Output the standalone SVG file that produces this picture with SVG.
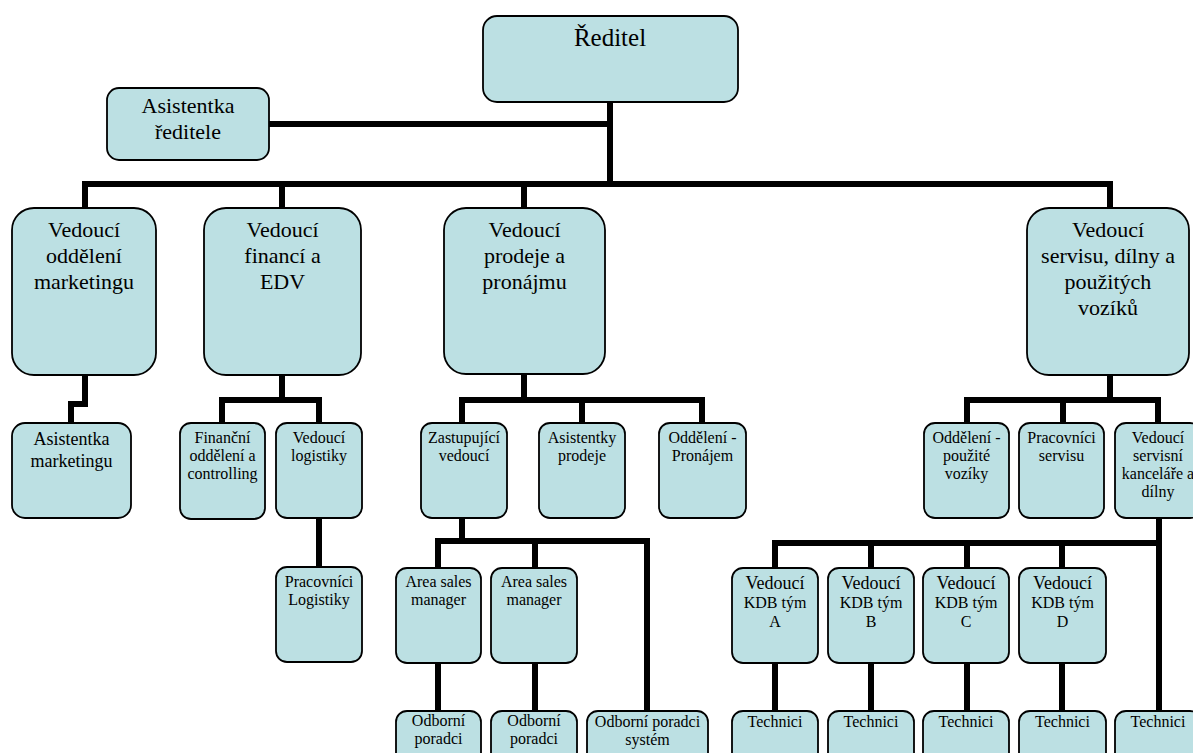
<svg xmlns="http://www.w3.org/2000/svg" width="1193" height="753" viewBox="0 0 1193 753" font-family="'Liberation Serif', 'Times New Roman', Times, serif">
<style>
.box{fill:#BCE0E3;stroke:#000;stroke-width:1.8}
.conn{fill:none;stroke:#000;stroke-width:6;stroke-linejoin:miter}
text{font-family:'Liberation Serif','Times New Roman',Times,serif;fill:#000;text-anchor:middle}
.t25{font-size:25px}
.t22{font-size:22px}
.t18{font-size:18px}
.t16{font-size:16px}
</style>
<rect width="1193" height="753" fill="#fff"/>
<g id="connectors">
<path class="conn" d="M610,102 V184"/>
<path class="conn" d="M269,124 H610"/>
<path class="conn" d="M85,208 V184 H1110 V208"/>
<path class="conn" d="M282,184 V208"/>
<path class="conn" d="M524,184 V208"/>
<path class="conn" d="M85,375 V404 H71 V423"/>
<path class="conn" d="M282,375 V400"/>
<path class="conn" d="M222,423 V400 H319 V423"/>
<path class="conn" d="M319,518 V567"/>
<path class="conn" d="M524,374 V400"/>
<path class="conn" d="M462,423 V400 H702 V423"/>
<path class="conn" d="M582,400 V423"/>
<path class="conn" d="M462,518 V541"/>
<path class="conn" d="M438,568 V541 H647 V711"/>
<path class="conn" d="M535,541 V568"/>
<path class="conn" d="M438,663 V711"/>
<path class="conn" d="M535,663 V711"/>
<path class="conn" d="M1110,375 V400"/>
<path class="conn" d="M967,423 V400 H1158 V423"/>
<path class="conn" d="M1063,400 V423"/>
<path class="conn" d="M1159,518 V711"/>
<path class="conn" d="M775,568 V543 H1159"/>
<path class="conn" d="M871,543 V568"/>
<path class="conn" d="M967,543 V568"/>
<path class="conn" d="M1062,543 V568"/>
<path class="conn" d="M775,663 V711"/>
<path class="conn" d="M871,663 V711"/>
<path class="conn" d="M967,663 V711"/>
<path class="conn" d="M1062,663 V711"/>
</g>
<g id="reditel"><rect class="box" x="483" y="16" width="255" height="86" rx="14"/><text class="t25" x="610" y="46">Ředitel</text></g>
<g id="asistentka-reditele"><rect class="box" x="107" y="88" width="162" height="72" rx="12"/><text class="t22" x="188" y="113">Asistentka</text><text class="t22" x="188" y="139">ředitele</text></g>
<g id="vedouci-marketing"><rect class="box" x="12" y="208" width="144" height="167" rx="22"/><text class="t22" x="84" y="237">Vedoucí</text><text class="t22" x="84" y="263">oddělení</text><text class="t22" x="84" y="289">marketingu</text></g>
<g id="vedouci-financi"><rect class="box" x="204" y="208" width="157" height="167" rx="22"/><text class="t22" x="282.5" y="237">Vedoucí</text><text class="t22" x="282.5" y="263">financí a</text><text class="t22" x="282.5" y="289">EDV</text></g>
<g id="vedouci-prodeje"><rect class="box" x="444" y="208" width="161" height="166" rx="22"/><text class="t22" x="524.5" y="237">Vedoucí</text><text class="t22" x="524.5" y="263">prodeje a</text><text class="t22" x="524.5" y="289">pronájmu</text></g>
<g id="vedouci-servisu"><rect class="box" x="1027" y="208" width="162" height="167" rx="22"/><text class="t22" x="1108" y="237">Vedoucí</text><text class="t22" x="1108" y="263">servisu, dílny a</text><text class="t22" x="1108" y="289">použitých</text><text class="t22" x="1108" y="315">vozíků</text></g>
<g id="asistentka-marketingu"><rect class="box" x="12" y="423" width="119" height="95" rx="13"/><text class="t18" x="71.5" y="445">Asistentka</text><text class="t18" x="71.5" y="467">marketingu</text></g>
<g id="financni-oddeleni"><rect class="box" x="180" y="423" width="85" height="96" rx="11"/><text class="t16" x="222.5" y="443">Finanční</text><text class="t16" x="222.5" y="461">oddělení a</text><text class="t16" x="222.5" y="479">controlling</text></g>
<g id="vedouci-logistiky"><rect class="box" x="276" y="423" width="86" height="95" rx="11"/><text class="t16" x="319" y="443">Vedoucí</text><text class="t16" x="319" y="461">logistiky</text></g>
<g id="pracovnici-logistiky"><rect class="box" x="276" y="567" width="86" height="95" rx="11"/><text class="t16" x="319" y="587">Pracovníci</text><text class="t16" x="319" y="605">Logistiky</text></g>
<g id="zastupujici-vedouci"><rect class="box" x="421" y="423" width="86" height="95" rx="11"/><text class="t16" x="464" y="443">Zastupující</text><text class="t16" x="464" y="461">vedoucí</text></g>
<g id="asistentky-prodeje"><rect class="box" x="539" y="423" width="86" height="95" rx="11"/><text class="t16" x="582" y="443">Asistentky</text><text class="t16" x="582" y="461">prodeje</text></g>
<g id="oddeleni-pronajem"><rect class="box" x="659" y="423" width="87" height="95" rx="11"/><text class="t16" x="702.5" y="443">Oddělení -</text><text class="t16" x="702.5" y="461">Pronájem</text></g>
<g id="area-sales-1"><rect class="box" x="396" y="568" width="85" height="95" rx="11"/><text class="t16" x="438.5" y="587">Area sales</text><text class="t16" x="438.5" y="605">manager</text></g>
<g id="area-sales-2"><rect class="box" x="491" y="568" width="86" height="95" rx="11"/><text class="t16" x="534" y="587">Area sales</text><text class="t16" x="534" y="605">manager</text></g>
<g id="odborni-poradci-1"><rect class="box" x="396" y="711" width="85" height="60" rx="11"/><text class="t16" x="438.5" y="726">Odborní</text><text class="t16" x="438.5" y="744">poradci</text></g>
<g id="odborni-poradci-2"><rect class="box" x="491" y="711" width="86" height="60" rx="11"/><text class="t16" x="534" y="726">Odborní</text><text class="t16" x="534" y="744">poradci</text></g>
<g id="odborni-poradci-system"><rect class="box" x="587" y="711" width="121" height="60" rx="11"/><text class="t16" x="647.5" y="727">Odborní poradci</text><text class="t16" x="647.5" y="745">systém</text></g>
<g id="oddeleni-pouzite-voziky"><rect class="box" x="924" y="423" width="85" height="95" rx="11"/><text class="t16" x="966.5" y="443">Oddělení -</text><text class="t16" x="966.5" y="461">použité</text><text class="t16" x="966.5" y="479">vozíky</text></g>
<g id="pracovnici-servisu"><rect class="box" x="1019" y="423" width="85" height="95" rx="11"/><text class="t16" x="1061.5" y="443">Pracovníci</text><text class="t16" x="1061.5" y="461">servisu</text></g>
<g id="vedouci-servisni-kancelare"><rect class="box" x="1115" y="423" width="86" height="95" rx="11"/><text class="t16" x="1158" y="443">Vedoucí</text><text class="t16" x="1158" y="461">servisní</text><text class="t16" x="1158" y="479">kanceláře a</text><text class="t16" x="1158" y="497">dílny</text></g>
<g id="kdb-a"><rect class="box" x="732" y="568" width="86" height="95" rx="11"/><text class="t18" x="775" y="589">Vedoucí</text><text class="t16" x="775" y="608">KDB tým</text><text class="t16" x="775" y="627">A</text></g>
<g id="kdb-b"><rect class="box" x="828" y="568" width="86" height="95" rx="11"/><text class="t18" x="871" y="589">Vedoucí</text><text class="t16" x="871" y="608">KDB tým</text><text class="t16" x="871" y="627">B</text></g>
<g id="kdb-c"><rect class="box" x="923" y="568" width="86" height="95" rx="11"/><text class="t18" x="966" y="589">Vedoucí</text><text class="t16" x="966" y="608">KDB tým</text><text class="t16" x="966" y="627">C</text></g>
<g id="kdb-d"><rect class="box" x="1019" y="568" width="87" height="95" rx="11"/><text class="t18" x="1062.5" y="589">Vedoucí</text><text class="t16" x="1062.5" y="608">KDB tým</text><text class="t16" x="1062.5" y="627">D</text></g>
<g id="technici-a"><rect class="box" x="732" y="711" width="86" height="60" rx="11"/><text class="t16" x="775" y="727">Technici</text></g>
<g id="technici-b"><rect class="box" x="828" y="711" width="86" height="60" rx="11"/><text class="t16" x="871" y="727">Technici</text></g>
<g id="technici-c"><rect class="box" x="923" y="711" width="86" height="60" rx="11"/><text class="t16" x="966" y="727">Technici</text></g>
<g id="technici-d"><rect class="box" x="1019" y="711" width="87" height="60" rx="11"/><text class="t16" x="1062.5" y="727">Technici</text></g>
<g id="technici-e"><rect class="box" x="1115" y="711" width="86" height="60" rx="11"/><text class="t16" x="1158" y="727">Technici</text></g>
</svg>
